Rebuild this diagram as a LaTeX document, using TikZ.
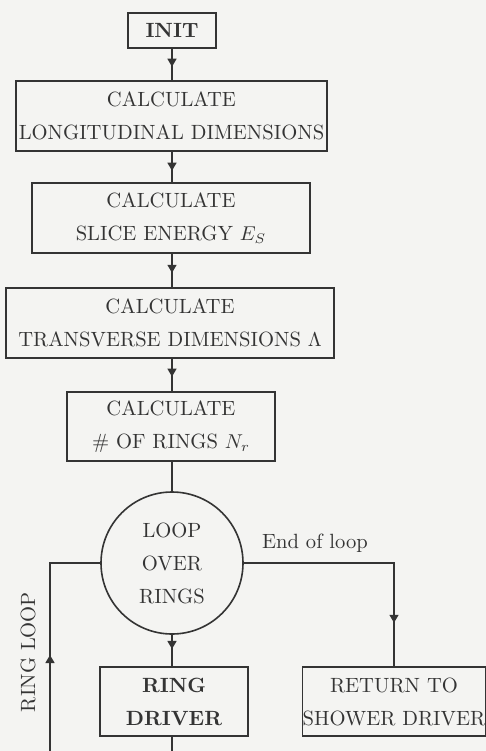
\documentclass[tikz,border=0pt]{standalone}
\usepackage{tikz}
\usetikzlibrary{arrows.meta,decorations.markings}
\definecolor{ink}{RGB}{52,52,52}
\definecolor{paper}{RGB}{244,244,242}
\begin{document}
\begin{tikzpicture}[x=0.5pt,y=-0.5pt,
  every node/.style={font=\fontsize{10.3}{16.5}\selectfont, text=ink},
  box/.style={draw=ink, line width=0.7pt, rectangle, inner sep=0pt, align=center},
  conn/.style={draw=ink, line width=0.7pt},
  midarrow/.style={postaction={decorate}, decoration={markings, mark=at position #1 with {\arrow{Triangle[length=4pt,width=4.5pt]}}}},
]
\fill[paper] (0,0) rectangle (486,751);
\useasboundingbox (0,0) rectangle (486,751);

\node[box, minimum width=44pt, minimum height=17.5pt] (init) at (172,30.5) {\textbf{INIT}};
\node[box, minimum width=155.5pt, minimum height=35pt] (long) at (171.5,116) {CALCULATE\\LONGITUDINAL DIMENSIONS};
\node[box, minimum width=139pt, minimum height=35pt] (slice) at (171,218) {CALCULATE\\SLICE ENERGY $E_S$};
\node[box, minimum width=164pt, minimum height=35pt] (trans) at (170,323) {CALCULATE\\TRANSVERSE DIMENSIONS $\Lambda$};
\node[box, minimum width=104pt, minimum height=34.5pt] (nr) at (171,426.5) {CALCULATE\\\# OF RINGS $N_r$};
\node[circle, draw=ink, line width=0.8pt, minimum size=71pt, inner sep=0pt, align=center] (loop) at (172,563) {LOOP\\OVER\\RINGS};
\node[box, minimum width=74pt, minimum height=34.5pt] (drv) at (174,701.5) {\textbf{RING}\\\textbf{DRIVER}};
\node[box, minimum width=87.5pt, minimum height=34.5pt] (ret) at (394,701.5) {RETURN TO\\SHOWER DRIVER};
\node (eol) at (315,543) {End of loop};
\node[rotate=90] (rl) at (28,652) {RING LOOP};

\coordinate (lb) at (50,751);
\coordinate (db) at (172,751);

\draw[conn, midarrow=0.57] (init.south) -- (init.south |- long.north);
\draw[conn, midarrow=0.62] (init.south |- long.south) -- (init.south |- slice.north);
\draw[conn, midarrow=0.57] (init.south |- slice.south) -- (init.south |- trans.north);
\draw[conn, midarrow=0.55] (init.south |- trans.south) -- (init.south |- nr.north);
\draw[conn] (init.south |- nr.south) -- (loop.north);
\draw[conn, midarrow=0.45] (loop.south) -- (loop.south |- drv.north);
\draw[conn] (loop.south |- drv.south) -- (db);
\draw[conn, midarrow=48pt] (lb) -- (lb |- loop.west) -- (loop.west);
\draw[conn, midarrow=105pt] (loop.east) -| (ret.north);
\end{tikzpicture}
\end{document}
